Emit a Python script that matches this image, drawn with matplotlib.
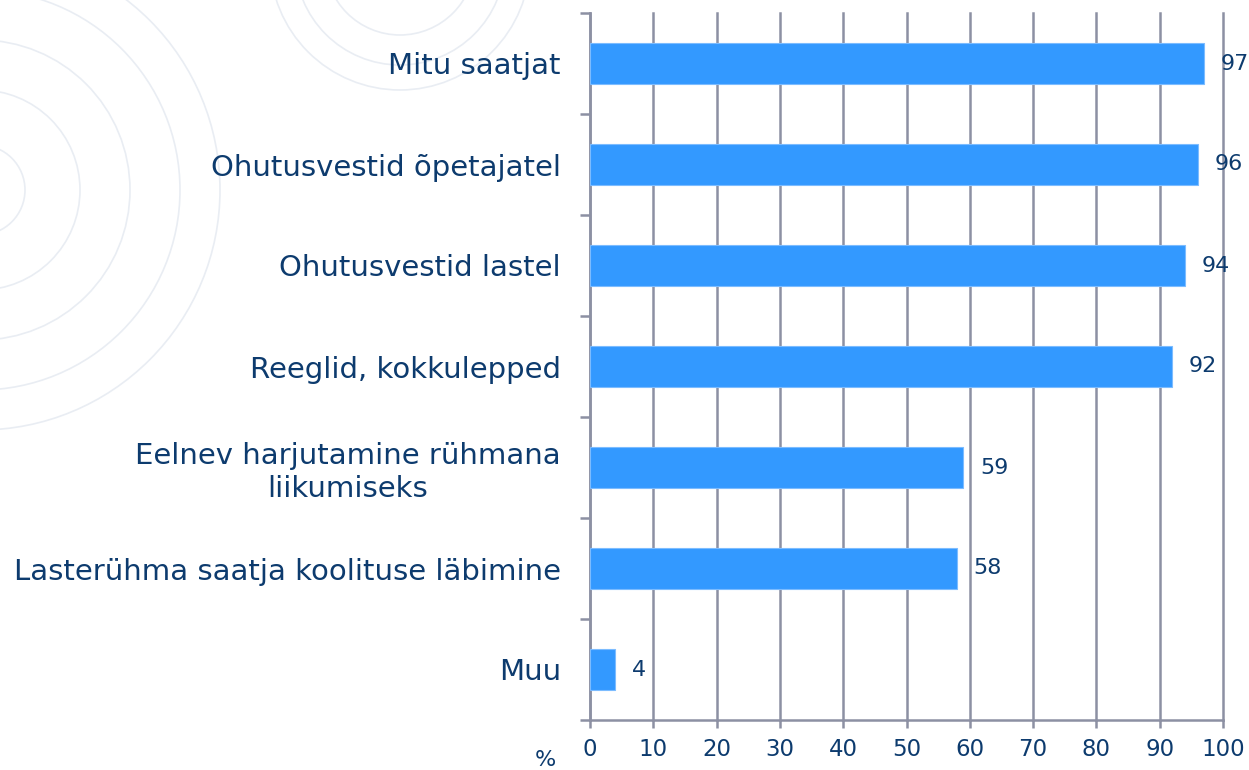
import matplotlib
matplotlib.use("Agg")
import matplotlib.pyplot as plt
from matplotlib.patches import Circle
import numpy as np

categories = [
    "Mitu saatjat",
    "Ohutusvestid õpetajatel",
    "Ohutusvestid lastel",
    "Reeglid, kokkulepped",
    "Eelnev harjutamine rühmana\nliikumiseks",
    "Lasterühma saatja koolituse läbimine",
    "Muu",
]
values = [97, 96, 94, 92, 59, 58, 4]
xticks = list(range(0, 101, 10))

NAVY = "#0d3b6e"
GRID = "#8c90a3"
BAR = "#3399ff"
FAINT = "#e9edf3"

W, H = 1249, 770
fig = plt.figure(figsize=(W / 100, H / 100), dpi=100)
fig.patch.set_facecolor("white")

# background decoration: faint arcs in the top-left corner (pixel coords)
bg = fig.add_axes([0, 0, 1, 1], zorder=0)
bg.set_xlim(0, W)
bg.set_ylim(H, 0)
bg.axis("off")
for r in [45, 100, 150, 200, 240]:
    bg.add_patch(Circle((-20, 190), r, fill=False, edgecolor=FAINT, lw=1.2))
for r in [75, 105, 130]:
    bg.add_patch(Circle((400, -40), r, fill=False, edgecolor=FAINT, lw=1.2))

ax = fig.add_axes([590 / W, 50 / H, 633 / W, 707 / H], zorder=1)
ax.set_facecolor("none")

y = np.arange(len(categories))
ax.barh(y, values, height=0.4, color=BAR, edgecolor="#7cbcff",
        linewidth=0.8, zorder=3)

for yi, v in zip(y, values):
    ax.annotate(f"{v}", (v, yi), xytext=(12, 0), textcoords="offset points",
                ha="left", va="center", fontsize=16, color=NAVY,
                annotation_clip=False)

ax.set_xlim(0, 100)
ax.set_ylim(len(categories) - 0.5, -0.5)
ax.set_xticks(xticks)
ax.set_xticklabels([str(t) for t in xticks])
ax.set_yticks(y)
ax.set_yticklabels(categories, multialignment="center")
ax.set_yticks(np.arange(-0.5, len(categories), 1), minor=True)

ax.grid(axis="x", color=GRID, linewidth=1.8, zorder=1)
for gl in ax.get_xgridlines():
    gl.set_clip_on(False)
ax.tick_params(axis="y", which="major", length=0, pad=21, labelsize=21,
               labelcolor=NAVY)
ax.tick_params(axis="y", which="minor", length=7.5, width=1.8, color=GRID,
               direction="out")
ax.tick_params(axis="x", which="major", length=6, width=1.8, color=GRID,
               pad=7, labelsize=16.5, labelcolor=NAVY)

for side in ["top", "right"]:
    ax.spines[side].set_visible(False)
for side in ["left", "bottom"]:
    ax.spines[side].set_color(GRID)
    ax.spines[side].set_linewidth(1.8)

fig.text(545 / W, 1 - 760 / H, "%", ha="center", va="center",
         fontsize=16, color=NAVY)

fig.savefig("out.png", dpi=100, facecolor="white")
